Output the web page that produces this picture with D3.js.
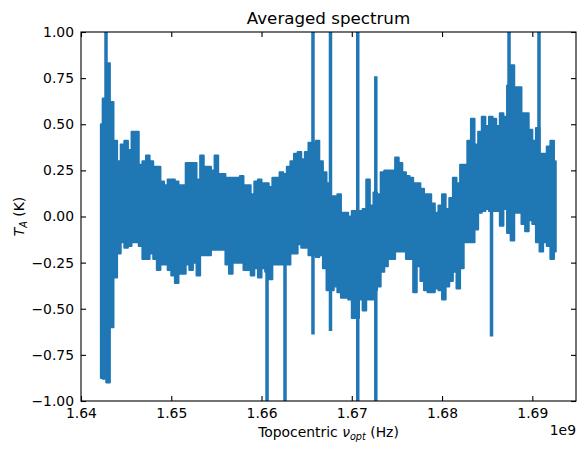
<!DOCTYPE html>
<html><head><meta charset="utf-8">
<script src="https://cdn.jsdelivr.net/npm/d3@7"></script>
<style>body{margin:0;background:#fff} text{font-family:"DejaVu Sans",sans-serif;fill:#000}</style>
</head><body><svg id="c" width="586" height="455"></svg>
<script>
// Frequencies (GHz; drawn in Hz with 1e9 offset)
const freqGHz = [
1.6422,1.6426,1.6430,1.6434,1.6438,1.6442,1.6446,1.6450,1.6454,1.6458,
1.6462,1.6466,1.6470,1.6474,1.6478,1.6482,1.6486,1.6490,1.6494,1.6498,
1.6502,1.6506,1.6510,1.6514,1.6518,1.6522,1.6526,1.6530,1.6534,1.6538,
1.6542,1.6546,1.6550,1.6554,1.6558,1.6562,1.6566,1.6570,1.6574,1.6578,
1.6582,1.6586,1.6590,1.6594,1.6598,1.6602,1.6606,1.6610,1.6614,1.6618,
1.6622,1.6626,1.6630,1.6634,1.6638,1.6642,1.6646,1.6650,1.6654,1.6658,
1.6662,1.6666,1.6670,1.6674,1.6678,1.6682,1.6686,1.6690,1.6694,1.6698,
1.6702,1.6706,1.6710,1.6714,1.6718,1.6722,1.6726,1.6730,1.6734,1.6738,
1.6742,1.6746,1.6750,1.6754,1.6758,1.6762,1.6766,1.6770,1.6774,1.6778,
1.6782,1.6786,1.6790,1.6794,1.6798,1.6802,1.6806,1.6810,1.6814,1.6818,
1.6822,1.6826,1.6830,1.6834,1.6838,1.6842,1.6846,1.6850,1.6854,1.6858,
1.6862,1.6866,1.6870,1.6874,1.6878,1.6882,1.6886,1.6890,1.6894,1.6898,
1.6902,1.6906,1.6910,1.6914,1.6918,1.6922,1.6926];
// Upper envelope of T_A (K)
const upperTA = [
0.50,0.64,0.83,0.62,0.41,0.30,0.39,0.41,0.36,0.46,
0.46,0.28,0.30,0.33,0.30,0.27,0.27,0.19,0.17,0.20,
0.20,0.19,0.17,0.17,0.29,0.29,0.29,0.20,0.33,0.27,
0.27,0.25,0.33,0.23,0.23,0.21,0.21,0.21,0.21,0.22,
0.17,0.17,0.12,0.19,0.20,0.18,0.18,0.16,0.21,0.21,
0.24,0.23,0.27,0.30,0.34,0.35,0.31,0.35,0.40,0.40,
0.41,0.30,0.24,0.18,0.11,0.11,0.12,0.02,0.02,0.00,
0.03,0.03,0.03,0.04,0.20,0.06,0.13,0.12,0.24,0.25,
0.25,0.25,0.32,0.29,0.24,0.22,0.21,0.18,0.18,0.15,
0.12,0.12,0.07,0.02,0.06,0.12,0.04,0.10,0.21,0.18,
0.28,0.28,0.41,0.53,0.39,0.46,0.54,0.49,0.54,0.53,
0.49,0.56,0.54,0.71,0.82,0.70,0.70,0.56,0.56,0.47,
0.41,0.48,0.34,0.34,0.38,0.41,0.30];
// Lower envelope of T_A (K)
const lowerTA = [
-0.875,-0.88,-0.90,-0.60,-0.33,-0.20,-0.14,-0.17,-0.16,-0.14,
-0.14,-0.16,-0.23,-0.23,-0.20,-0.23,-0.29,-0.26,-0.26,-0.29,
-0.32,-0.36,-0.31,-0.31,-0.26,-0.29,-0.25,-0.32,-0.21,-0.21,
-0.21,-0.18,-0.18,-0.18,-0.18,-0.26,-0.31,-0.25,-0.25,-0.25,
-0.29,-0.29,-0.32,-0.28,-0.33,-0.28,-0.30,-0.34,-0.26,-0.26,
-0.26,-0.26,-0.26,-0.20,-0.20,-0.15,-0.17,-0.17,-0.21,-0.21,
-0.22,-0.21,-0.28,-0.40,-0.40,-0.38,-0.41,-0.44,-0.44,-0.45,
-0.55,-0.55,-0.45,-0.51,-0.45,-0.45,-0.40,-0.38,-0.30,-0.27,
-0.23,-0.23,-0.19,-0.19,-0.19,-0.23,-0.23,-0.41,-0.27,-0.35,
-0.40,-0.41,-0.41,-0.39,-0.40,-0.45,-0.38,-0.35,-0.30,-0.39,
-0.28,-0.14,-0.14,-0.14,-0.07,0.02,0.03,0.04,0.03,0.03,
0.03,-0.05,0.04,-0.09,-0.13,0.02,0.02,-0.04,-0.08,-0.02,
-0.04,-0.14,-0.19,-0.14,-0.16,-0.23,-0.19];
// Narrow RFI spikes
const spikeGHz  = [1.64277,1.66061,1.66260,1.66570,1.66764,1.67066,1.67266,1.68548,1.68742,1.69074];
const spikeHigh = [1.05,0.18,0.23,1.05,1.05,1.05,0.76,0.50,1.05,1.05];
const spikeLow  = [-0.88,-1.05,-1.05,-0.64,-0.62,-1.05,-1.05,-0.65,0.00,-0.10];

const xTicks = [1.64e9,1.65e9,1.66e9,1.67e9,1.68e9,1.69e9];
const xTickLabels = ["1.64","1.65","1.66","1.67","1.68","1.69"];
const yTicks = [-1,-0.75,-0.5,-0.25,0,0.25,0.5,0.75,1];
const yTickLabels = ["\u22121.00","\u22120.75","\u22120.50","\u22120.25","0.00","0.25","0.50","0.75","1.00"];

const L=81,R=576,T=32,B=401;
const color = "#1f77b4";
const svg = d3.select("#c");
const x = d3.scaleLinear().domain([1.64e9,1.69484e9]).range([L,R]);
const y = d3.scaleLinear().domain([-1,1]).range([B,T]);

svg.append("defs").append("clipPath").attr("id","clip")
  .append("rect").attr("x",L).attr("y",T).attr("width",R-L).attr("height",B-T);

const band = freqGHz.map((f,i)=>({f:f*1e9,u:upperTA[i],l:lowerTA[i]}));
const g = svg.append("g").attr("clip-path","url(#clip)");
g.append("path").datum(band)
  .attr("d", d3.area().curve(d3.curveStep).x(d=>x(d.f)).y0(d=>y(d.l)).y1(d=>y(d.u)))
  .attr("fill",color).attr("stroke",color).attr("stroke-width",2).attr("stroke-linejoin","round");
const spikes = spikeGHz.map((f,i)=>({f:f*1e9,h:spikeHigh[i],l:spikeLow[i]}));
g.selectAll("line.spike").data(spikes).enter().append("line").attr("class","spike")
  .attr("x1",d=>x(d.f)).attr("x2",d=>x(d.f)).attr("y1",d=>y(d.h)).attr("y2",d=>y(d.l))
  .attr("stroke",color).attr("stroke-width",3.5);

const fs = 13.9;
function styleAxis(sel){
  sel.select(".domain").remove();
  sel.selectAll(".tick line").attr("stroke","#000").attr("stroke-width",1.1);
  sel.selectAll(".tick text").attr("font-size",fs).attr("font-family","DejaVu Sans").attr("fill","#000");
}
svg.append("g").attr("transform",`translate(0,${B})`)
  .call(d3.axisBottom(x).tickValues(xTicks).tickFormat((d,i)=>xTickLabels[i]).tickSizeInner(-5).tickSizeOuter(0).tickPadding(7))
  .call(styleAxis);
svg.append("g").attr("transform",`translate(0,${T})`)
  .call(d3.axisTop(x).tickValues(xTicks).tickFormat("").tickSizeInner(-5).tickSizeOuter(0))
  .call(styleAxis);
svg.append("g").attr("transform",`translate(${L},0)`)
  .call(d3.axisLeft(y).tickValues(yTicks).tickFormat((d,i)=>yTickLabels[i]).tickSizeInner(-5).tickSizeOuter(0).tickPadding(7))
  .call(styleAxis);
svg.append("g").attr("transform",`translate(${R},0)`)
  .call(d3.axisRight(y).tickValues(yTicks).tickFormat("").tickSizeInner(-5).tickSizeOuter(0))
  .call(styleAxis);

svg.append("rect").attr("x",L).attr("y",T).attr("width",R-L).attr("height",B-T)
  .attr("fill","none").attr("stroke","#000").attr("stroke-width",1.1);

svg.append("text").attr("x",(L+R)/2).attr("y",24).attr("text-anchor","middle")
  .attr("font-size",16.7).text("Averaged spectrum");

const xl = svg.append("text").attr("x",(L+R)/2).attr("y",437).attr("text-anchor","middle").attr("font-size",fs);
xl.append("tspan").text("Topocentric ");
xl.append("tspan").attr("font-style","italic").text("\u03bd");
xl.append("tspan").attr("font-style","italic").attr("font-size",9.7).attr("dy",3).text("opt");
xl.append("tspan").attr("dy",-3).text(" (Hz)");

svg.append("text").attr("x",R).attr("y",435).attr("text-anchor","end").attr("font-size",fs).text("1e9");

const yl = svg.append("text").attr("transform",`translate(24,${(T+B)/2}) rotate(-90)`)
  .attr("text-anchor","middle").attr("font-size",fs);
yl.append("tspan").attr("font-style","italic").text("T");
yl.append("tspan").attr("font-style","italic").attr("font-size",9.7).attr("dy",3).text("A");
yl.append("tspan").attr("dy",-3).text(" (K)");
</script></body></html>
